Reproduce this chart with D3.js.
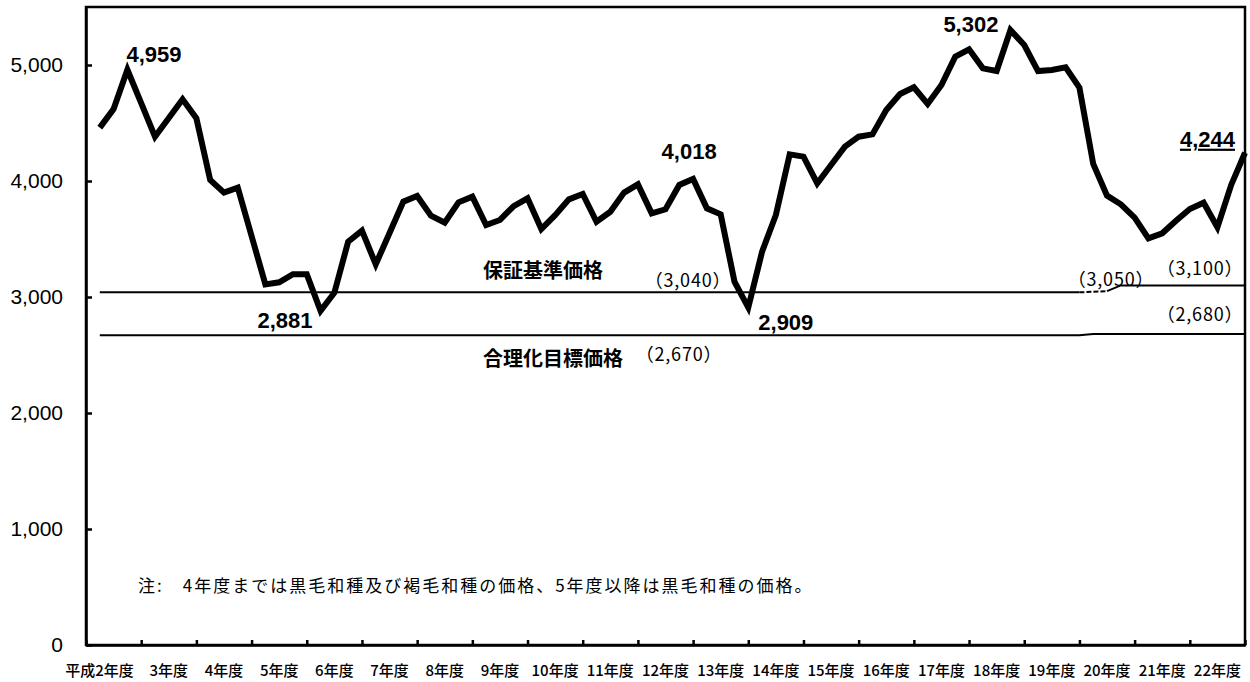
<!DOCTYPE html>
<html><head><meta charset="utf-8">
<script src="https://cdn.jsdelivr.net/npm/d3@7"></script>
<style>body{margin:0;background:#fff}svg{display:block}</style>
</head><body>
<svg id="c" width="1250" height="682"></svg>
<script>
// ---- data ----
const yearLabels = ["平成2年度","3年度","4年度","5年度","6年度","7年度","8年度","9年度","10年度","11年度","12年度","13年度","14年度","15年度","16年度","17年度","18年度","19年度","20年度","21年度","22年度"];
const yTicks = [0, 1000, 2000, 3000, 4000, 5000];
// quarterly prices (4 per fiscal year)
const prices = [
  4460, 4621, 4959, 4672, 4382, 4543, 4704, 4540,
  4009, 3900, 3943, 3526, 3109, 3127, 3196, 3196,
  2881, 3037, 3477, 3572, 3282, 3552, 3822, 3871,
  3701, 3641, 3816, 3865, 3621, 3664, 3784, 3851,
  3586, 3705, 3842, 3888, 3649, 3735, 3900, 3971,
  3721, 3756, 3966, 4018, 3764, 3713, 3132, 2909,
  3391, 3707, 4230, 4210, 3980, 4138, 4296, 4382,
  4402, 4612, 4750, 4808, 4664, 4828, 5072, 5135,
  4971, 4948, 5302, 5172, 4948, 4957, 4980, 4805,
  4147, 3874, 3799, 3684, 3506, 3549, 3658, 3759,
  3813, 3601, 3966, 4244
];
// 保証基準価格 (quarter index, value)
const guaranteeIdx = [0, 71, 73, 74, 83];
const guaranteeVal = [3040, 3040, 3050, 3100, 3100];
// 合理化目標価格
const rationalIdx = [0, 71, 72, 83];
const rationalVal = [2670, 2670, 2680, 2680];
// highlighted values
const peakIdx = [2, 16, 43, 47, 66, 83];
const peakText = ["4,959", "2,881", "4,018", "2,909", "5,302", "4,244"];

// ---- drawing ----
const svg = d3.select("#c");
const L = 86, R = 1245, T = 7, B = 645;
const nQ = prices.length; // 84
const xq = d3.scaleLinear().domain([0, nQ]).range([L, R]);
const xb = d3.scaleBand().domain(yearLabels).range([L, R]);
const y = d3.scaleLinear().domain([0, 5500]).range([B, T]);
const px = i => xq(i + 1);

// frame
svg.append("rect").attr("x", L).attr("y", T).attr("width", R - L).attr("height", B - T)
  .attr("fill", "none").attr("stroke", "#000").attr("stroke-width", 2.5);

// y axis
const ya = svg.append("g").attr("transform", `translate(${L},0)`)
  .call(d3.axisLeft(y).tickValues(yTicks).tickSizeInner(-6).tickSizeOuter(0).tickPadding(23).tickFormat(d3.format(",")));
ya.select(".domain").attr("stroke-width", 2.5);
ya.selectAll(".tick line").attr("stroke-width", 2.5);
ya.selectAll("text").attr("font-family", "'Liberation Sans', Arial, sans-serif").attr("font-size", 21).attr("fill", "#000");

// x axis ticks (year boundaries)
const xa = svg.append("g").attr("transform", `translate(0,${B})`)
  .call(d3.axisBottom(xq).tickValues(d3.range(0, nQ + 1, 4)).tickSizeInner(-5).tickSizeOuter(0).tickFormat(""));
xa.select(".domain").attr("stroke-width", 2.5);
xa.selectAll(".tick line").attr("stroke-width", 2.5);

// x labels
const xl = svg.append("g").attr("transform", `translate(0,${B})`)
  .call(d3.axisBottom(xb).tickSize(0).tickPadding(20));
xl.select(".domain").remove();
xl.selectAll("text").attr("font-family", "'Noto Sans CJK JP', sans-serif").attr("font-size", 15)
  .attr("font-weight", 500).attr("fill", "#000");
xl.selectAll("text").filter((d, i) => i === 0).attr("dx", -14);

// reference lines
const refLine = d3.line().x(d => px(d[0])).y(d => y(d[1]));
const gPts = guaranteeIdx.map((d, i) => [d, guaranteeVal[i]]);
const rPts = rationalIdx.map((d, i) => [d, rationalVal[i]]);
svg.append("path").attr("d", refLine(gPts.slice(0, 2))).attr("fill", "none").attr("stroke", "#000").attr("stroke-width", 2);
svg.append("path").attr("d", refLine(gPts.slice(1, 3))).attr("fill", "none").attr("stroke", "#000").attr("stroke-width", 2).attr("stroke-dasharray", "5,2");
svg.append("path").attr("d", refLine(gPts.slice(2))).attr("fill", "none").attr("stroke", "#000").attr("stroke-width", 2);
svg.append("path").attr("d", refLine(rPts)).attr("fill", "none").attr("stroke", "#000").attr("stroke-width", 2);

// main line
const line = d3.line().x((d, i) => px(i)).y(d => y(d));
svg.append("path").attr("d", line(prices)).attr("fill", "none").attr("stroke", "#000")
  .attr("stroke-width", 6).attr("stroke-linejoin", "miter").attr("stroke-miterlimit", 4);

// value labels
const numFont = "'Liberation Sans', Arial, sans-serif";
const placement = [
  {anchor: "start", dx: -1, dy: -8},
  {anchor: "end", dx: -8, dy: 17},
  {anchor: "middle", dx: -4, dy: -20},
  {anchor: "start", dx: 10, dy: 22},
  {anchor: "end", dx: -12, dy: 2},
  {anchor: "end", dx: -10, dy: -6}
];
peakIdx.forEach((idx, k) => {
  const p = placement[k];
  const t = svg.append("text")
    .attr("x", px(idx) + p.dx).attr("y", y(prices[idx]) + p.dy)
    .attr("text-anchor", p.anchor)
    .attr("font-family", numFont).attr("font-weight", "bold").attr("font-size", 22)
    .text(peakText[k]);
  if (k === peakIdx.length - 1) t.attr("text-decoration", "underline");
});

// reference line labels
const cjk = "'Noto Sans CJK JP', sans-serif";
svg.append("text").attr("x", 483).attr("y", y(guaranteeVal[0]) - 14)
  .attr("font-family", cjk).attr("font-weight", "bold").attr("font-size", 20).text("保証基準価格");
svg.append("text").attr("x", 483).attr("y", y(rationalVal[0]) + 31)
  .attr("font-family", cjk).attr("font-weight", "bold").attr("font-size", 20).text("合理化目標価格");

const paren = (x, yy, s) => svg.append("text").attr("x", x).attr("y", yy).attr("text-anchor", "middle")
  .attr("font-family", cjk).attr("font-size", 18).attr("letter-spacing", 0.8).text(s);
paren(688, y(3040) - 5, "（3,040）");
paren(679, y(2670) + 26, "（2,670）");
paren(1111, y(3050) - 5, "（3,050）");
paren(1200, y(3100) - 10, "（3,100）");
paren(1200, y(2680) - 13, "（2,680）");

// note
svg.append("text").attr("x", 138).attr("y", 592)
  .attr("font-family", cjk).attr("font-size", 17).attr("letter-spacing", 2)
  .text("注:　4年度までは黒毛和種及び褐毛和種の価格、5年度以降は黒毛和種の価格。");
</script>
</body></html>
